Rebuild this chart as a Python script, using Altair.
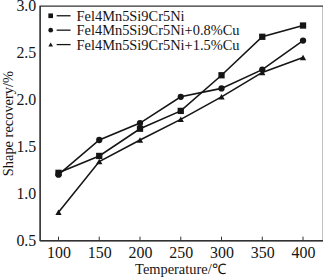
import altair as alt
import pandas as pd

temps = [100, 150, 200, 250, 300, 350, 400]
names = ["Fel4Mn5Si9Cr5Ni", "Fel4Mn5Si9Cr5Ni+0.8%Cu", "Fel4Mn5Si9Cr5Ni+1.5%Cu"]
s1 = [1.22, 1.40, 1.69, 1.88, 2.26, 2.67, 2.79]
s2 = [1.20, 1.57, 1.75, 2.03, 2.12, 2.32, 2.63]
s3 = [0.80, 1.34, 1.57, 1.79, 2.03, 2.29, 2.45]
shapes = ["square", "circle", "triangle-up"]
x_ticks = [100, 150, 200, 250, 300, 350, 400]
y_ticks = [0.5, 1.0, 1.5, 2.0, 2.5, 3.0]

rows = []
for name, vals in zip(names, [s1, s2, s3]):
    for t, v in zip(temps, vals):
        rows.append({"T": t, "R": v, "series": name})
df = pd.DataFrame(rows)

FONT = "Liberation Serif"
INK = "#151515"

xs = alt.Scale(domain=[77, 424.5], nice=False)
ys = alt.Scale(domain=[0.5, 3.0], nice=False)

x_enc = alt.X("T:Q", scale=xs, axis=alt.Axis(
    values=x_ticks, title="Temperature/℃", grid=False, ticks=False,
    labelFont=FONT, labelFontSize=16, labelColor=INK, labelPadding=4,
    titleFont=FONT, titleFontSize=14.5, titleFontWeight="normal", titleColor=INK,
    titlePadding=2, titleX=141, domainColor="#333", domainWidth=1.2))
y_enc = alt.Y("R:Q", scale=ys, axis=alt.Axis(
    values=y_ticks, format=".1f", title="Shape recovery/%", grid=False, ticks=False,
    labelFont=FONT, labelFontSize=16, labelColor=INK, labelPadding=4,
    titleFont=FONT, titleFontSize=14.5, titleFontWeight="normal", titleColor=INK,
    titlePadding=0, domainColor="#333", domainWidth=1.2))

base = alt.Chart(df)
lines = base.mark_line(color=INK, strokeWidth=1.6).encode(
    x=x_enc, y=y_enc, detail="series:N")
pts = base.mark_point(filled=True, color=INK, opacity=1, size=40).encode(
    x="T:Q", y="R:Q",
    shape=alt.Shape("series:N", scale=alt.Scale(domain=names, range=shapes), legend=None))

tick_df = pd.DataFrame({"T": x_ticks, "y0": [0.5] * len(x_ticks), "y1": [0.54] * len(x_ticks)})
ticks = alt.Chart(tick_df).mark_rule(color="#333", strokeWidth=1).encode(
    x="T:Q", y="y0:Q", y2="y1:Q")

layers = [lines, pts, ticks]
leg_y = [10, 24.5, 39]
for name, shp, yy in zip(names, shapes, leg_y):
    ldf = pd.DataFrame({"name": [name]})
    lc = alt.Chart(ldf)
    layers.append(lc.mark_point(filled=True, color=INK, opacity=1, size=22, shape=shp).encode(
        x=alt.value(11), y=alt.value(yy)))
    layers.append(lc.mark_rule(color=INK, strokeWidth=1.3).encode(
        x=alt.value(17), x2=alt.value(31), y=alt.value(yy)))
    layers.append(lc.mark_text(font=FONT, fontSize=14.5, color=INK, align="left", baseline="middle").encode(
        x=alt.value(37), y=alt.value(yy + 1), text="name:N"))

chart = alt.layer(*layers).properties(
    width=285, height=236,
    autosize=alt.AutoSizeParams(type="none"),
    padding={"left": 40, "top": 5, "right": 0, "bottom": 37},
    background="white",
).configure_view(stroke="#333", strokeWidth=1.2)

chart.save("out.html", embed_options={"renderer": "svg", "actions": False})
